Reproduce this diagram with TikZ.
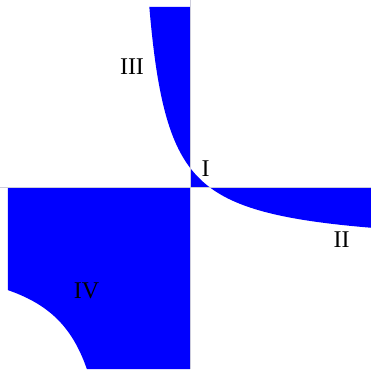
\documentclass[tikz,border=0pt]{standalone}
\usepackage{fontspec}
\setmainfont{Liberation Serif}
\begin{document}
\begin{tikzpicture}[x=1pt,y=1pt,
  region/.style={fill={rgb,255:red,0;green,0;blue,255}},
  axisline/.style={draw={rgb,255:red,205;green,205;blue,220},line width=0.5pt},
  lab/.style={inner sep=0pt,font=\fontsize{24}{24}\selectfont}]
\useasboundingbox (-190,-182) rectangle (181,187);
% quadrant II region
\fill[region] (0,180) -- (-40.7,180) -- plot[domain=-40.7:0,samples=80] (\x,{-61+4900/(\x+61)}) -- cycle;
% quadrant I region
\fill[region] (0,0) -- plot[domain=0:19.3,samples=30] (\x,{-61+4900/(\x+61)}) -- cycle;
% quadrant IV region
\fill[region] (19.3,0) -- (181,0) -- plot[domain=181:19.3,samples=100] (\x,{-61+4900/(\x+61)}) -- cycle;
% quadrant III region
\fill[region] (0,0) -- (-182,0) -- plot[domain=-182:-103.1,samples=80] (\x,{-61+5100/(\x+61)}) -- (0,-182) -- cycle;
% axes
\coordinate (xl) at (-190,0);
\coordinate (xr) at (181,0);
\coordinate (yb) at (0,-182);
\coordinate (yt) at (0,187);
\draw[axisline] (xl) -- (xr);
\draw[axisline] (yb) -- (yt);
% labels
\node[lab] (l1) at (15.5,18.5) {I};
\node[lab] (l2) at (151.5,-53) {II};
\node[lab] (l3) at (-58,120) {III};
\node[lab] (l4) at (-103.5,-103.5) {IV};
\end{tikzpicture}
\end{document}
